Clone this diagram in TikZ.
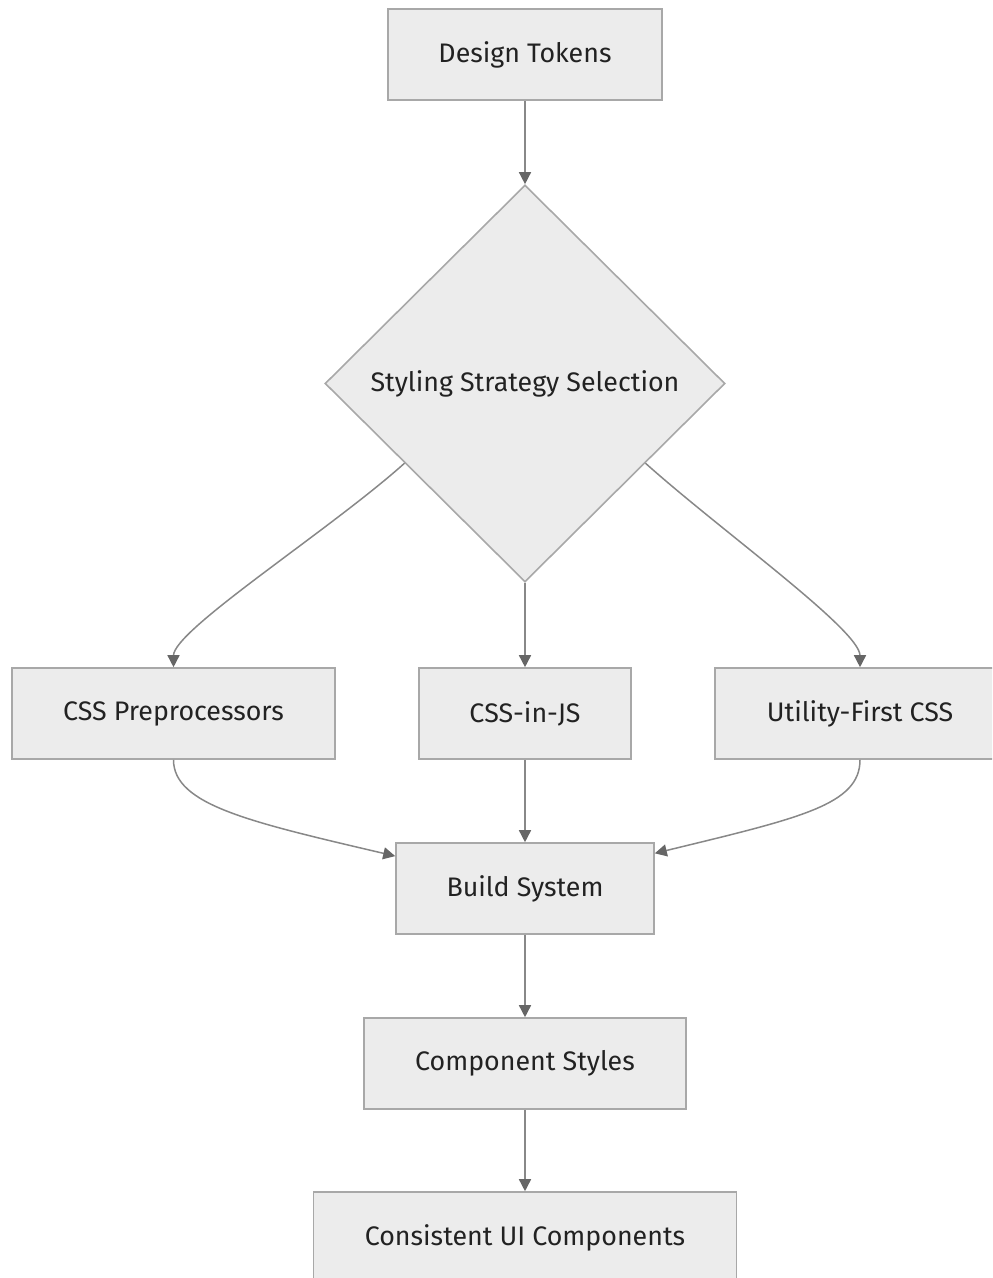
\documentclass[tikz,border=0pt]{standalone}
\usepackage{fontspec}
\setmainfont{Fira Sans}
\usetikzlibrary{shapes.geometric,arrows.meta,calc}
\definecolor{boxfill}{HTML}{ECECEC}
\definecolor{boxline}{HTML}{A8A8A8}
\definecolor{wire}{HTML}{888888}
\definecolor{tip}{HTML}{666666}
\definecolor{ink}{HTML}{222222}
\tikzset{
  stage/.style = {draw=boxline, fill=boxfill, line width=0.8pt, text=ink,
    inner sep=0pt, minimum height=45.5pt, font=\fontsize{13.4}{15}\selectfont},
  choice/.style = {stage, shape=diamond, minimum width=200pt, minimum height=198.5pt},
  flow/.style = {draw=wire, line width=0.75pt, -{Triangle[length=6pt,width=6pt,color=tip]}}
}
\begin{document}
\begin{tikzpicture}[x=0.5pt, y=-0.5pt]
\useasboundingbox (0,0) rectangle (992,1278);
\clip (0,0) rectangle (992,1278);
% boxes
\node[stage, minimum width=137pt] (tokens) at (525,54.5) {Design Tokens};
\node[choice] (select) at (525,383.5) {Styling Strategy Selection};
\node[stage, minimum width=161.5pt] (pre) at (173.5,713.5) {CSS Preprocessors};
\node[stage, minimum width=106pt] (injs) at (525,713.5) {CSS-in-JS};
\node[stage, minimum width=145pt] (util) at (860,713.5) {Utility-First CSS};
\node[stage, minimum width=129pt] (build) at (525,888.5) {Build System};
\node[stage, minimum width=161pt] (comp) at (525,1063.5) {Component Styles};
\node[stage, minimum width=211.5pt] (ui) at (525,1237.5) {Consistent UI Components};
% arrows
\draw[flow] (tokens) -- (select);
\draw[flow] ($(select.west)!0.4!(select.south)$) .. controls (330,530) and (173.5,630) .. (pre.north);
\draw[flow] (select) -- (injs);
\draw[flow] ($(select.east)!0.4!(select.south)$) .. controls (720,530) and (860,630) .. (util.north);
\draw[flow] (pre.south) .. controls (173.5,805) and (250,822) .. ($(build.north west)!0.15!(build.south west)$);
\draw[flow] (injs) -- (build);
\draw[flow] (util.south) .. controls (860,805) and (800,818) .. ($(build.north east)!0.12!(build.south east)$);
\draw[flow] (build) -- (comp);
\draw[flow] (comp) -- (ui);
\end{tikzpicture}
\end{document}
